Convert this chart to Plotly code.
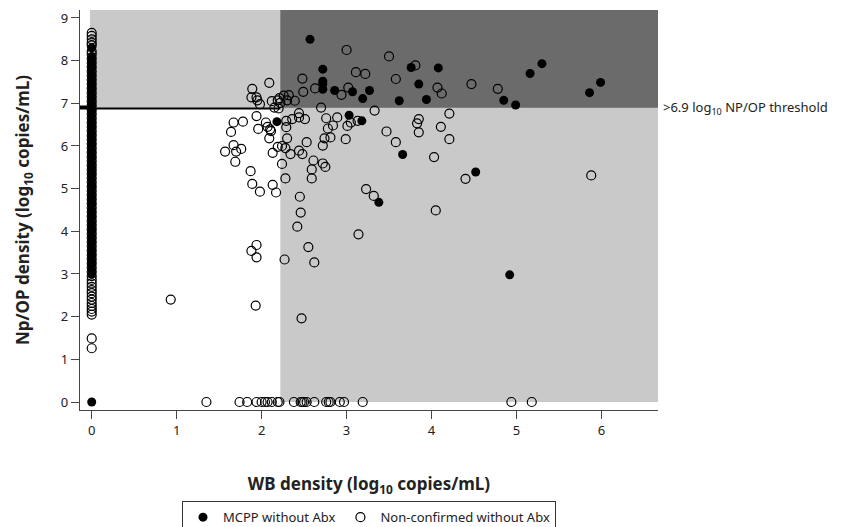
import plotly.graph_objects as go

# ---------------- data ----------------
# MCPP without Abx (filled), WB-positive
mcpp_wb = [2.57, 2.72, 2.72, 2.72, 2.72, 2.86, 2.18, 3.07, 3.19, 3.27, 3.76, 4.08, 3.85, 3.62,
           3.94, 4.85, 3.03, 3.18, 3.66, 4.52, 3.38, 4.99, 5.16, 5.30, 5.86, 5.99, 4.92]
mcpp_np = [8.50, 7.80, 7.52, 7.45, 7.33, 7.30, 6.57, 7.27, 7.11, 7.30, 7.84, 7.83, 7.45, 7.06,
           7.09, 7.07, 6.72, 6.59, 5.80, 5.39, 4.68, 6.96, 7.70, 7.93, 7.25, 7.49, 2.98]
# MCPP without Abx, WB-negative (WB = 0)
mcpp_np_wb0 = [0.0, 3.00, 3.10, 3.21, 3.30, 3.41, 3.50, 3.60, 3.71, 3.80, 3.90, 4.01, 4.10, 4.20,
               4.31, 4.40, 4.50, 4.61, 4.70, 4.80, 4.90, 5.01, 5.10, 5.20, 5.31, 5.40, 5.50,
               5.60, 5.71, 5.80, 5.90, 6.01, 6.10, 6.20, 6.30, 6.41, 6.50, 6.60, 6.70, 6.81,
               6.90, 7.00, 7.10, 7.20, 7.31, 7.40, 7.50, 7.60, 7.70, 7.81, 7.90, 8.00, 8.10, 8.30]

# Non-confirmed without Abx (open), WB-positive
non_wb = [2.09, 2.48, 2.49, 2.63, 1.89, 1.88, 1.94, 1.95, 1.98, 2.12, 2.21, 2.26, 2.32, 2.30,
          2.39, 2.19, 2.22, 2.15, 2.20, 2.70, 1.94, 1.67, 1.78, 1.64, 1.96, 2.05, 2.07, 2.10,
          2.09, 2.11, 2.29, 2.29, 2.36, 2.44, 2.44, 2.51, 2.76, 2.89, 2.78, 2.84, 2.30, 2.13,
          2.19, 2.24, 2.28, 2.34, 2.44, 2.48, 2.53, 2.74, 2.72, 1.67, 1.57, 1.70, 1.76, 1.69,
          2.61, 2.72, 2.75, 2.59, 2.24, 1.87, 2.28, 2.59, 1.89, 1.98, 2.13, 2.17, 2.45,
          3.00, 3.50, 3.81, 3.11, 3.22, 3.58, 3.02, 2.94, 4.07, 4.12, 4.47, 4.78, 3.33, 4.21,
          3.01, 3.05, 3.13, 3.85, 3.83, 4.11, 3.85, 3.47, 2.81, 2.99, 4.21, 3.58, 4.03, 4.40,
          3.23, 3.32, 5.88, 2.46, 2.42, 3.14, 1.94, 1.88, 1.94, 2.55, 2.27, 2.62, 0.93, 1.93,
          2.47, 4.05,
          1.35, 1.74, 1.83, 1.94, 2.00, 2.04, 2.07, 2.12, 2.19, 2.21, 2.38, 2.46, 2.48, 2.50,
          2.53, 2.62, 2.76, 2.79, 2.81, 2.92, 2.97, 3.19, 4.94, 5.18]
non_np = [7.48, 7.58, 7.27, 7.35, 7.34, 7.14, 7.14, 7.07, 6.98, 7.05, 7.12, 7.18, 7.19, 7.07,
          7.06, 7.07, 7.01, 6.90, 6.88, 6.90, 6.70, 6.55, 6.57, 6.33, 6.40, 6.55, 6.45, 6.39,
          6.18, 6.35, 6.59, 6.44, 6.63, 6.77, 6.67, 6.63, 6.65, 6.67, 6.41, 6.48, 6.18, 5.84,
          5.98, 6.00, 5.95, 5.81, 5.89, 5.81, 6.09, 6.18, 6.01, 6.02, 5.87, 5.87, 5.93, 5.63,
          5.66, 5.59, 5.51, 5.45, 5.58, 5.41, 5.24, 5.24, 5.11, 4.93, 5.09, 4.91, 4.81,
          8.25, 8.10, 7.89, 7.73, 7.69, 7.57, 7.37, 7.20, 7.37, 7.23, 7.45, 7.34, 6.83, 6.76,
          6.47, 6.55, 6.59, 6.63, 6.53, 6.45, 6.32, 6.34, 6.20, 6.16, 6.16, 6.09, 5.74, 5.23,
          4.99, 4.83, 5.31, 4.44, 4.11, 3.93, 3.68, 3.54, 3.39, 3.63, 3.34, 3.27, 2.40, 2.26,
          1.96, 4.49,
          0, 0, 0, 0, 0, 0, 0, 0, 0, 0, 0, 0, 0, 0,
          0, 0, 0, 0, 0, 0, 0, 0, 0, 0]
# Non-confirmed without Abx, WB-negative (WB = 0)
non_np_wb0 = [8.65, 8.58, 8.50, 8.42, 8.36, 8.22, 8.15, 8.05, 7.95, 7.85, 7.75, 7.65, 7.55,
              7.45, 7.35, 7.25, 7.15, 7.05, 6.95, 6.85, 6.75, 6.65, 6.55, 6.45, 6.35, 6.25,
              6.15, 6.05, 5.95, 5.85, 5.75, 5.65, 5.55, 5.45, 5.35, 5.25, 5.15, 5.05, 4.95,
              4.85, 4.75, 4.65, 4.55, 4.45, 4.35, 4.25, 4.15, 4.05, 3.95, 3.85, 3.75, 3.65,
              3.55, 3.45, 3.35, 3.25, 3.15, 3.05,
              2.95, 2.86, 2.78, 2.70, 2.62, 2.55, 2.47, 2.40,
              2.32, 2.25, 2.18, 2.12, 2.05, 1.49, 1.26]

threshold = 6.9
wb_cut = 2.22
x_ticks = [0, 1, 2, 3, 4, 5, 6]
y_ticks = [0, 1, 2, 3, 4, 5, 6, 7, 8, 9]

FONT = "Noto Sans"

fig = go.Figure()
fig.add_trace(go.Scatter(
    x=mcpp_wb + [0] * len(mcpp_np_wb0), y=mcpp_np + mcpp_np_wb0,
    mode="markers", name="MCPP without Abx",
    marker=dict(symbol="circle", size=9, color="black", line=dict(width=0)),
))
fig.add_trace(go.Scatter(
    x=non_wb + [0] * len(non_np_wb0), y=non_np + non_np_wb0,
    mode="markers", name="Non-confirmed without Abx",
    marker=dict(symbol="circle-open", size=9, color="black", line=dict(width=1.2)),
))

x_max = 6.666
y_max = 9.187
shapes = [
    dict(type="rect", xref="x", yref="y", x0=-0.02, x1=x_max, y0=threshold, y1=y_max,
         fillcolor="#c9c9c9", line=dict(width=0), layer="below"),
    dict(type="rect", xref="x", yref="y", x0=wb_cut, x1=x_max, y0=0, y1=threshold,
         fillcolor="#c9c9c9", line=dict(width=0), layer="below"),
    dict(type="rect", xref="x", yref="y", x0=wb_cut, x1=x_max, y0=threshold, y1=y_max,
         fillcolor="#6b6b6b", line=dict(width=0), layer="below"),
    dict(type="line", xref="paper", yref="y", x0=0, x1=1, y0=threshold, y1=threshold,
         line=dict(color="black", width=4), layer="below"),
]

fig.update_layout(
    width=837, height=519,
    margin=dict(l=72, r=187, t=2, b=117, autoexpand=False),
    plot_bgcolor="white", paper_bgcolor="white",
    font=dict(family=FONT, size=13, color="#222"),
    shapes=shapes,
    showlegend=True,
    legend=dict(orientation="h", x=0.5, xanchor="center", y=-0.228, yanchor="top",
                bordercolor="#333", borderwidth=1, font=dict(size=13, family=FONT),
                itemwidth=30, tracegroupgap=0),
    annotations=[dict(x=1.0, xref="paper", y=threshold, yref="y", xanchor="left",
                      xshift=3, text=">6.9 log<sub>10</sub> NP/OP threshold",
                      showarrow=False, font=dict(size=13, family=FONT, color="#222"))],
)
fig.update_xaxes(
    range=[-0.138, x_max], tickvals=x_ticks, ticktext=[str(v) for v in x_ticks],
    showgrid=False, zeroline=False, showline=True, linecolor="#444", linewidth=1.2,
    ticks="outside", ticklen=8, tickcolor="#444",
    title=dict(text="<b>WB density (log<sub>10</sub> copies/mL)</b>", font=dict(size=17, family=FONT),
               standoff=40),
    automargin=False,
)
fig.update_yaxes(
    range=[-0.1875, y_max], tickvals=y_ticks, ticktext=[str(v) for v in y_ticks],
    showgrid=False, zeroline=False, showline=True, linecolor="#444", linewidth=1.2,
    ticks="outside", ticklen=8, tickcolor="#444",
    title=dict(text="<b>Np/OP density (log<sub>10</sub> copies/mL)</b>", font=dict(size=17, family=FONT),
               standoff=26),
    automargin=False,
)

fig.write_html("out.html")
